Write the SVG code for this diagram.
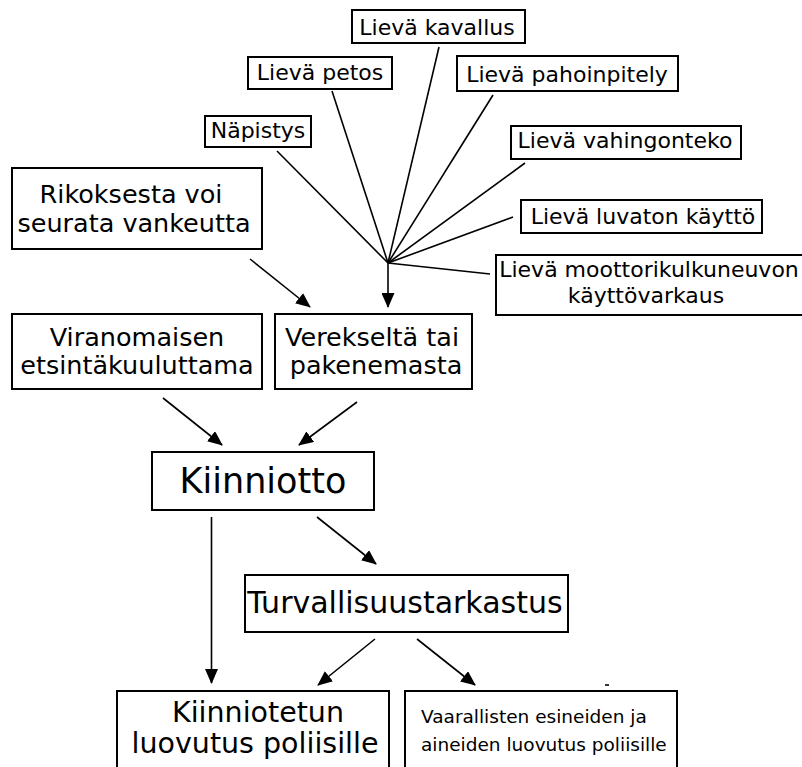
<svg xmlns="http://www.w3.org/2000/svg" width="802" height="767" viewBox="0 0 802 767">
<defs>
<style>
rect{fill:#fff;stroke:#000;stroke-width:2}
text{font-family:"DejaVu Sans","Liberation Sans",sans-serif;fill:#000;text-anchor:middle}
.s{font-size:22px}
.m{font-size:25.5px}
.l{font-size:30px}
.l2{font-size:28.5px}
.xl{font-size:35px}
.v{font-size:18.5px;text-anchor:start}
.c line{stroke:#000;stroke-width:1.6}
.a{marker-end:url(#ah)}
</style>
<marker id="ah" markerWidth="15" markerHeight="13" refX="14" refY="6.5" orient="auto" markerUnits="userSpaceOnUse">
<path d="M0,0 L15,6.5 L0,13 Z" fill="#000"/>
</marker>
</defs>
<rect x="0" y="0" width="802" height="767" style="stroke:none"/>
<g class="c">
<line x1="388" y1="263" x2="439" y2="47"/>
<line x1="388" y1="263" x2="332" y2="91"/>
<line x1="388" y1="263" x2="493" y2="95"/>
<line x1="388" y1="263" x2="277" y2="151"/>
<line x1="388" y1="263" x2="525" y2="163"/>
<line x1="388" y1="263" x2="513" y2="217"/>
<line x1="388" y1="263" x2="490" y2="274"/>
<line class="a" x1="388" y1="263" x2="388" y2="307"/>
<line class="a" x1="250" y1="259" x2="310" y2="307"/>
<line class="a" x1="163" y1="398" x2="222" y2="445"/>
<line class="a" x1="357" y1="402" x2="299" y2="445"/>
<line class="a" x1="211.5" y1="517" x2="211.5" y2="683"/>
<line class="a" x1="317" y1="517" x2="376" y2="564"/>
<line class="a" x1="375" y1="639" x2="318" y2="685"/>
<line class="a" x1="417" y1="639" x2="475" y2="685"/>
<line x1="605" y1="685" x2="609" y2="685"/>
</g>
<g id="kavallus"><rect x="352" y="10" width="173" height="33"/><text class="s" x="437" y="35">Lievä kavallus</text></g>
<g id="petos"><rect x="248" y="57" width="144" height="32"/><text class="s" x="320" y="80">Lievä petos</text></g>
<g id="pahoinpitely"><rect x="457" y="56" width="221" height="35"/><text class="s" x="567" y="82">Lievä pahoinpitely</text></g>
<g id="napistys"><rect x="205" y="116" width="106" height="31"/><text class="s" x="258" y="138">Näpistys</text></g>
<g id="vahingonteko"><rect x="511" y="126" width="230" height="33"/><text class="s" x="625" y="148">Lievä vahingonteko</text></g>
<g id="luvaton"><rect x="521" y="200" width="241" height="33"/><text class="s" x="643" y="224">Lievä luvaton käyttö</text></g>
<g id="moottori"><rect x="496" y="255" width="310" height="60"/><text class="s" x="649" y="277">Lievä moottorikulkuneuvon</text><text class="s" x="646" y="303">käyttövarkaus</text></g>
<g id="rikoksesta"><rect x="12" y="168" width="250" height="81"/><text class="m" x="131" y="203">Rikoksesta voi</text><text class="m" x="134" y="232">seurata vankeutta</text></g>
<g id="viranomaisen"><rect x="12" y="314" width="250" height="75"/><text class="m" x="137" y="346">Viranomaisen</text><text class="m" x="137" y="374">etsintäkuuluttama</text></g>
<g id="verekselta"><rect x="275" y="314" width="197" height="75"/><text class="m" x="372" y="346">Verekseltä tai</text><text class="m" x="376" y="374">pakenemasta</text></g>
<g id="kiinniotto"><rect x="152" y="452" width="222" height="58"/><text class="xl" x="263" y="493">Kiinniotto</text></g>
<g id="turvallisuus"><rect x="245" y="575" width="323" height="57"/><text class="l" x="405" y="613">Turvallisuustarkastus</text></g>
<g id="kiinniotetun"><rect x="117" y="691" width="272" height="90"/><text class="l2" x="258" y="722">Kiinniotetun</text><text class="l2" x="255" y="753">luovutus poliisille</text></g>
<g id="vaarallisten"><rect x="405" y="691" width="272" height="90"/><text class="v" x="421" y="723">Vaarallisten esineiden ja</text><text class="v" x="421" y="751">aineiden luovutus poliisille</text></g>
</svg>
